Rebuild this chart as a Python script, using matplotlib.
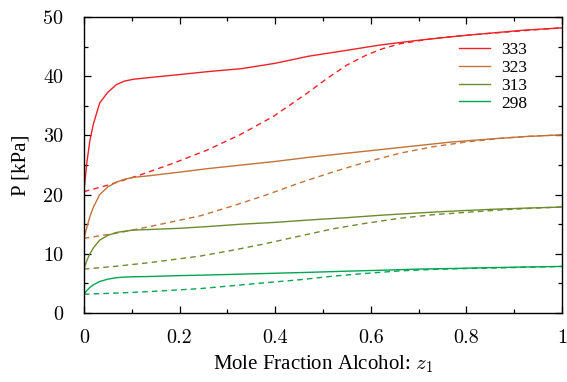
import matplotlib
matplotlib.use('Agg')
import matplotlib.pyplot as plt
from matplotlib.ticker import MultipleLocator

plt.rcParams['mathtext.fontset'] = 'cm'

# temperatures (K)
temps = ['333', '323', '313', '298']
colors = ['#ee2226', '#c2723a', '#6b8c2e', '#00a651']

# bubble curves (solid), P vs liquid mole fraction
x_bub = [0, 0.0063, 0.0126, 0.02, 0.033, 0.05, 0.068, 0.085, 0.103, 0.138, 0.2,
         0.26, 0.33, 0.4, 0.47, 0.55, 0.62, 0.7, 0.77, 0.85, 0.92, 1.0]
p_bub_333 = [20.5, 25.5, 29.2, 32.0, 35.5, 37.3, 38.6, 39.2, 39.5, 39.8, 40.3,
             40.8, 41.3, 42.2, 43.4, 44.4, 45.3, 46.1, 46.7, 47.3, 47.8, 48.2]
p_bub_323 = [12.6, 14.5, 16.3, 17.9, 20.0, 21.3, 22.1, 22.6, 22.9, 23.2, 23.8,
             24.4, 25.0, 25.6, 26.3, 27.0, 27.6, 28.3, 28.9, 29.4, 29.8, 30.1]
p_bub_313 = [7.4, 8.9, 10.0, 11.0, 12.3, 13.1, 13.6, 13.8, 14.0, 14.1, 14.3,
             14.6, 15.0, 15.3, 15.7, 16.1, 16.5, 16.9, 17.2, 17.5, 17.7, 17.9]
p_bub_298 = [3.15, 3.8, 4.3, 4.75, 5.3, 5.7, 5.95, 6.05, 6.1, 6.15, 6.3,
             6.4, 6.55, 6.7, 6.85, 7.05, 7.2, 7.4, 7.5, 7.65, 7.75, 7.85]

# dew curves (dashed), P vs vapour mole fraction
y_dew_333 = [0, 0.05, 0.117, 0.187, 0.257, 0.326, 0.396, 0.466, 0.508, 0.55,
             0.591, 0.626, 0.661, 0.731, 0.8, 0.87, 0.94, 1.0]
p_dew_333 = [20.5, 21.6, 23.3, 25.3, 27.5, 30.1, 33.2, 37.1, 39.6, 41.9,
             43.6, 44.7, 45.5, 46.4, 46.95, 47.4, 47.85, 48.2]
y_dew = [0, 0.07, 0.138, 0.243, 0.312, 0.38, 0.452, 0.52, 0.586, 0.661,
         0.731, 0.8, 0.87, 0.94, 1.0]
p_dew_323 = [12.6, 13.5, 14.6, 16.4, 18.1, 19.9, 22.0, 23.8, 25.4, 27.0,
             28.1, 28.9, 29.5, 29.9, 30.1]
p_dew_313 = [7.4, 7.9, 8.5, 9.6, 10.6, 11.7, 13.0, 14.2, 15.1, 16.0,
             16.6, 17.0, 17.4, 17.7, 17.9]
p_dew_298 = [3.15, 3.35, 3.6, 4.1, 4.6, 5.1, 5.6, 6.2, 6.65, 7.1,
             7.35, 7.5, 7.6, 7.75, 7.85]

bub = [p_bub_333, p_bub_323, p_bub_313, p_bub_298]
dew = [(y_dew_333, p_dew_333), (y_dew, p_dew_323), (y_dew, p_dew_313), (y_dew, p_dew_298)]

fig = plt.figure(figsize=(5.67, 3.82), dpi=100)
ax = fig.add_axes([0.148, 0.181, 0.843, 0.774])

for t, c, pb, (yd, pd_) in zip(temps, colors, bub, dew):
    ax.plot(x_bub, pb, color=c, lw=1.0, label=t)
    ax.plot(yd, pd_, color=c, lw=1.0, ls=(0, (4, 3)))

ax.set_xlim(0, 1)
ax.set_ylim(0, 50)
ax.xaxis.set_major_locator(MultipleLocator(0.2))
ax.xaxis.set_minor_locator(MultipleLocator(0.1))
ax.yaxis.set_major_locator(MultipleLocator(10))
ax.yaxis.set_minor_locator(MultipleLocator(5))
ax.set_xticks([0, 0.2, 0.4, 0.6, 0.8, 1.0])
ax.set_xticklabels(['0', '0.2', '0.4', '0.6', '0.8', '1'])
ax.tick_params(which='both', direction='in', top=True, right=True, width=0.9)
ax.tick_params(which='major', length=5)
ax.tick_params(which='minor', length=3)
ax.tick_params(axis='y', pad=15)
ax.tick_params(axis='x', pad=12)
for lab in ax.get_xticklabels() + ax.get_yticklabels():
    lab.set_family('cmr10')
    lab.set_fontsize(14.5)
for s in ax.spines.values():
    s.set_linewidth(1.0)

ax.set_xlabel('Mole Fraction Alcohol: $z_1$', family='Liberation Serif', fontsize=15, labelpad=4)
ax.set_ylabel('P [kPa]', family='Liberation Serif', fontsize=15, labelpad=9)

ax.legend(loc='upper left', bbox_to_anchor=(0.785, 0.917), frameon=False,
          borderaxespad=0, borderpad=0,
          prop={'family': 'Liberation Serif', 'size': 12.5}, handlelength=1.75,
          labelspacing=0.1, handletextpad=0.65)

fig.savefig('out.png', dpi=100)
